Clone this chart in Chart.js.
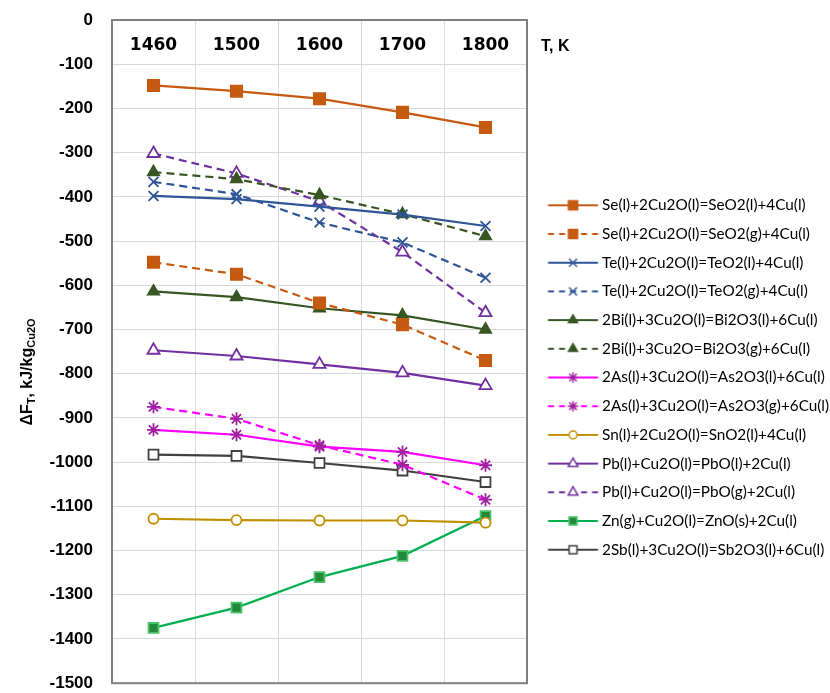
<!DOCTYPE html>
<html lang="en">
<head>
  <meta charset="UTF-8">
  <title>ΔF_T vs T</title>
  <script src="https://cdn.jsdelivr.net/npm/chart.js"></script>
  <style>
    body { margin: 0; background: #fff; }
  </style>
</head>
<body>
  <canvas id="chart" width="830" height="693"></canvas>

  <script>
    // temperatures, K
    const temps = ['1460', '1500', '1600', '1700', '1800'];

    const seLiq = [-148, -161, -178, -209, -243];
    const seGas = [-548, -575, -640, -689, -770];
    const teLiq = [-398, -405, -422, -440, -466];
    const teGas = [-366, -394, -458, -503, -583];
    const biLiq = [-614, -627, -652, -668, -700];
    const biGas = [-344, -360, -396, -439, -489];
    const asLiq = [-927, -938, -965, -977, -1007];
    const asGas = [-875, -902, -962, -1006, -1085];
    const snLiq = [-1128, -1131, -1132, -1132, -1137];
    const pbLiq = [-747, -760, -779, -798, -827];
    const pbGas = [-302, -347, -410, -525, -662];
    const znGas = [-1375, -1329, -1260, -1212, -1122];
    const sbLiq = [-983, -986, -1002, -1019, -1045];

    const names = [
      'Se(l)+2Cu2O(l)=SeO2(l)+4Cu(l)',
      'Se(l)+2Cu2O(l)=SeO2(g)+4Cu(l)',
      'Te(l)+2Cu2O(l)=TeO2(l)+4Cu(l)',
      'Te(l)+2Cu2O(l)=TeO2(g)+4Cu(l)',
      '2Bi(l)+3Cu2O(l)=Bi2O3(l)+6Cu(l)',
      '2Bi(l)+3Cu2O=Bi2O3(g)+6Cu(l)',
      '2As(l)+3Cu2O(l)=As2O3(l)+6Cu(l)',
      '2As(l)+3Cu2O(l)=As2O3(g)+6Cu(l)',
      'Sn(l)+2Cu2O(l)=SnO2(l)+4Cu(l)',
      'Pb(l)+Cu2O(l)=PbO(l)+2Cu(l)',
      'Pb(l)+Cu2O(l)=PbO(g)+2Cu(l)',
      'Zn(g)+Cu2O(l)=ZnO(s)+2Cu(l)',
      '2Sb(l)+3Cu2O(l)=Sb2O3(l)+6Cu(l)'
    ];

    // styles: line colour, marker, marker fill, marker border, radius, dashed
    const styles = [
      { c: '#c55a11', p: 'rect', f: '#c55a11', b: '#c55a11', r: 8, d: false },
      { c: '#c55a11', p: 'rect', f: '#c55a11', b: '#c55a11', r: 8, d: true },
      { c: '#2f5597', p: 'crossRot', f: '#2f5597', b: '#2f5597', r: 7, d: false },
      { c: '#2f5597', p: 'crossRot', f: '#2f5597', b: '#2f5597', r: 7, d: true },
      { c: '#375623', p: 'triangle', f: '#375623', b: '#375623', r: 6.5, d: false },
      { c: '#375623', p: 'triangle', f: '#375623', b: '#375623', r: 6.5, d: true },
      { c: '#ff00ff', p: 'star', f: '#a020a0', b: '#a020a0', r: 6.5, d: false },
      { c: '#ff00ff', p: 'star', f: '#a020a0', b: '#a020a0', r: 6.5, d: true },
      { c: '#bf9000', p: 'circle', f: '#ffffff', b: '#bf9000', r: 5, d: false },
      { c: '#7030a0', p: 'triangle', f: '#ffffff', b: '#7030a0', r: 7, d: false },
      { c: '#7030a0', p: 'triangle', f: '#ffffff', b: '#7030a0', r: 7, d: true },
      { c: '#00b050', p: 'rect', f: '#23883c', b: '#4cc46a', r: 7, d: false },
      { c: '#404040', p: 'rect', f: '#ffffff', b: '#404040', r: 7, d: false }
    ];

    const series = [seLiq, seGas, teLiq, teGas, biLiq, biGas, asLiq, asGas, snLiq, pbLiq, pbGas, znGas, sbLiq];

    // small picture for the legend: line + marker (drawn in the right part of a wider canvas)
    function legendIcon(s) {
      const cv = document.createElement('canvas');
      cv.width = 80; cv.height = 16;
      const g = cv.getContext('2d');
      g.strokeStyle = s.c;
      g.lineWidth = 2;
      if (s.d) g.setLineDash([6, 5]);
      g.beginPath(); g.moveTo(20.6, 8); g.lineTo(70.6, 8); g.stroke();
      g.setLineDash([]);
      g.fillStyle = s.f;
      g.strokeStyle = s.b;
      g.lineWidth = 1.5;
      Chart.helpers.drawPoint(g, { pointStyle: s.p, radius: s.r * 0.8, borderWidth: 1.5 }, 45.6, 8);
      return cv;
    }

    const datasets = series.map((vals, i) => {
      const s = styles[i];
      return {
        label: names[i],
        data: vals,
        borderColor: s.c,
        backgroundColor: s.f,
        borderWidth: 2.2,
        borderDash: s.d ? [8, 5] : [],
        pointStyle: s.p,
        pointRadius: s.r,
        pointBackgroundColor: s.f,
        pointBorderColor: s.b,
        pointBorderWidth: 1.8,
        fill: false,
        tension: 0
      };
    });

    // the layout gives a side legend at most a quarter of the width; widen it
    const legendWidth = {
      id: 'legendWidth',
      beforeLayout(chart) {
        const lg = chart.legend;
        if (lg && !lg._wide) {
          const fit = lg.fit;
          lg.fit = function () { fit.call(this); this.width = 303; };
          lg._wide = true;
        }
      }
    };

    // frame, y-axis title and "T, K"
    const extras = {
      id: 'extras',
      afterDraw(chart) {
        const { ctx, chartArea } = chart;
        ctx.save();
        ctx.strokeStyle = '#7f7f7f';
        ctx.lineWidth = 2;
        ctx.strokeRect(chartArea.left, chartArea.top, chartArea.right - chartArea.left, chartArea.bottom - chartArea.top);

        ctx.fillStyle = '#000';
        ctx.font = 'bold 16px "Liberation Sans"';
        ctx.textBaseline = 'middle';
        ctx.textAlign = 'left';
        ctx.fillText('T, K', chartArea.right + 14, 47);

        // rotated title with subscripts
        const parts = [
          ['ΔF', 'bold 16px "Liberation Sans"', 0],
          ['T', 'bold 11px "Liberation Sans"', 4],
          [', kJ/kg', 'bold 16px "Liberation Sans"', 0],
          ['Cu2O', 'bold 11px "Liberation Sans"', 4]
        ];
        let total = 0;
        parts.forEach(p => { ctx.font = p[1]; total += ctx.measureText(p[0]).width; });
        ctx.translate(28, 372);
        ctx.rotate(-Math.PI / 2);
        let x = -total / 2;
        parts.forEach(p => {
          ctx.font = p[1];
          ctx.fillText(p[0], x, p[2]);
          x += ctx.measureText(p[0]).width;
        });
        ctx.restore();
      }
    };

    const ctx = document.getElementById('chart').getContext('2d');

    new Chart(ctx, {
      type: 'line',
      data: { labels: temps, datasets: datasets },
      options: {
        responsive: false,
        animation: false,
        layout: { padding: { top: 20, bottom: 4, left: 0, right: 0 } },
        scales: {
          x: {
            position: 'top',
            offset: true,
            grid: { offset: true, color: '#d9d9d9', drawTicks: false },
            border: { display: false },
            ticks: {
              mirror: true,
              padding: 15,
              color: '#000',
              font: { family: 'DejaVu Sans', weight: 'bold', size: 17 }
            },
            afterFit: (scale) => { scale.height = 0; }
          },
          y: {
            min: -1500,
            max: 0,
            grid: { color: '#d9d9d9', drawTicks: false },
            border: { display: false },
            ticks: {
              stepSize: 100,
              padding: 19,
              color: '#000',
              font: { family: 'Liberation Sans', weight: 'bold', size: 17 },
              callback: (v) => String(v)
            },
            afterFit: (scale) => {
              scale.width = 112;
              scale.paddingTop = 0;
              scale.paddingBottom = 0;
            }
          }
        },
        plugins: {
          tooltip: { enabled: false },
          legend: {
            position: 'right',
            align: 'center',
            title: { display: true, text: '', font: { size: 10 }, padding: { top: 17, bottom: 17 } },
            labels: {
              usePointStyle: true,
              pointStyleWidth: 54,
              padding: 13.4,
              color: '#000',
              font: { family: 'Lato', size: 15.3 },
              generateLabels: (chart) => chart.data.datasets.map((ds, i) => ({
                text: ds.label,
                pointStyle: legendIcon(styles[i]),
                fillStyle: styles[i].f,
                strokeStyle: styles[i].c,
                fontColor: '#000',
                lineWidth: 0,
                hidden: false,
                datasetIndex: i
              }))
            }
          }
        }
      },
      plugins: [legendWidth, extras]
    });
  </script>
</body>
</html>
